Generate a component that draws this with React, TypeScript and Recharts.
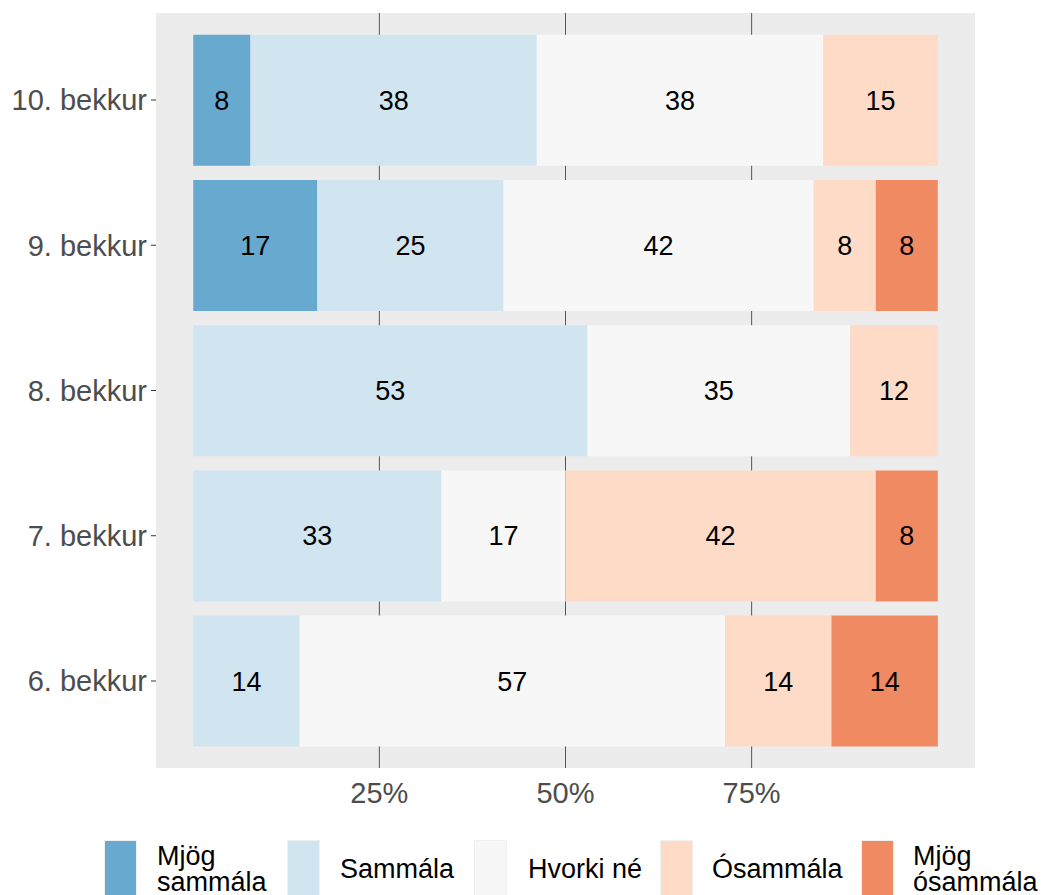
import React from 'react'
import {
  BarChart,
  Bar,
  XAxis,
  YAxis,
  CartesianGrid,
  LabelList
} from 'recharts'

// grades, top to bottom
const grades = ['10. bekkur', '9. bekkur', '8. bekkur', '7. bekkur', '6. bekkur']

// share of answers (%) per grade
const mjogSammala = [7.69, 16.67, 0, 0, 0]
const sammala = [38.46, 25, 52.94, 33.33, 14.29]
const hvorkiNe = [38.46, 41.67, 35.29, 16.67, 57.14]
const osammala = [15.38, 8.33, 11.76, 41.67, 14.29]
const mjogOsammala = [0, 8.33, 0, 8.33, 14.29]

const xTicks = [25, 50, 75]
const xDomain = [-5, 105]

const series = [
  { key: 'ms', name: 'Mjög\nsammála', color: '#67A9CF' },
  { key: 's', name: 'Sammála', color: '#D1E5F0' },
  { key: 'h', name: 'Hvorki né', color: '#F7F7F7' },
  { key: 'o', name: 'Ósammála', color: '#FDDBC7' },
  { key: 'mo', name: 'Mjög\nósammála', color: '#EF8A62' }
]

const data = grades.map((grade, i) => ({
  grade,
  ms: mjogSammala[i],
  s: sammala[i],
  h: hvorkiNe[i],
  o: osammala[i],
  mo: mjogOsammala[i]
}))

const font = '"Liberation Sans", Arial, Helvetica, sans-serif'

// legend slots (key left edge, text left edge)
const legendPos = [
  { key: 104, text: 157 },
  { key: 287, text: 340 },
  { key: 474, text: 528 },
  { key: 660, text: 712 },
  { key: 861, text: 913 }
]

function Legend() {
  return (
    <>
      {series.map((s, i) => {
        const lines = s.name.split('\n')
        const pos = legendPos[i]
        return (
          <React.Fragment key={s.key}>
            <div
              style={{
                position: 'absolute',
                left: pos.key,
                top: 840,
                width: 31,
                height: 58,
                background: s.color,
                border: '1px solid #F0F0F0'
              }}
            />
            <div
              style={{
                position: 'absolute',
                left: pos.text,
                top: lines.length > 1 ? 843 : 856,
                fontSize: 27,
                lineHeight: '26px',
                color: '#000',
                whiteSpace: 'pre'
              }}
            >
              {lines.join('\n')}
            </div>
          </React.Fragment>
        )
      })}
    </>
  )
}

// only draw grid lines at the tick values, not at the panel edges
const gridX = ({ xAxis, offset }: any) =>
  xTicks.map((t) =>
    xAxis && typeof xAxis.scale === 'function'
      ? xAxis.scale(t)
      : offset.left + (offset.width * (t - xDomain[0])) / (xDomain[1] - xDomain[0])
  )

export default function App() {
  const fmt = (v: any) => (v ? Math.round(Number(v)) : '')
  return (
    <div
      style={{
        position: 'absolute',
        left: 0,
        top: 0,
        width: 1051,
        height: 895,
        overflow: 'hidden',
        background: '#fff',
        fontFamily: font
      }}
    >
      <BarChart
        width={1051}
        height={895}
        data={data}
        layout="vertical"
        barCategoryGap="5%"
        margin={{ top: 13, right: 76, left: 0, bottom: 87 }}
      >
        <CartesianGrid
          horizontal={false}
          stroke="#555555"
          strokeWidth={1}
          fill="#ECECEC"
          fillOpacity={1}
          verticalCoordinatesGenerator={gridX}
        />
        <XAxis
          type="number"
          domain={xDomain}
          ticks={xTicks}
          tickFormatter={(v) => `${v}%`}
          axisLine={false}
          tickLine={false}
          tickSize={6}
          tickMargin={8}
          height={40}
          tick={{ fill: '#4D4D4D', fontSize: 29, fontFamily: font }}
        />
        <YAxis
          type="category"
          dataKey="grade"
          width={156}
          padding={{ top: 14.4, bottom: 14.4 }}
          axisLine={false}
          tickLine={{ stroke: '#333333' }}
          tickSize={5}
          tickMargin={4}
          tick={{ fill: '#4D4D4D', fontSize: 29, fontFamily: font }}
        />
        {series.map((s) => (
          <Bar
            key={s.key}
            dataKey={s.key}
            stackId="a"
            fill={s.color}
            isAnimationActive={false}
          >
            <LabelList
              dataKey={s.key}
              position="center"
              formatter={fmt}
              fill="#000"
              fontSize={27}
              fontFamily={font}
            />
          </Bar>
        ))}
      </BarChart>
      <Legend />
    </div>
  )
}
